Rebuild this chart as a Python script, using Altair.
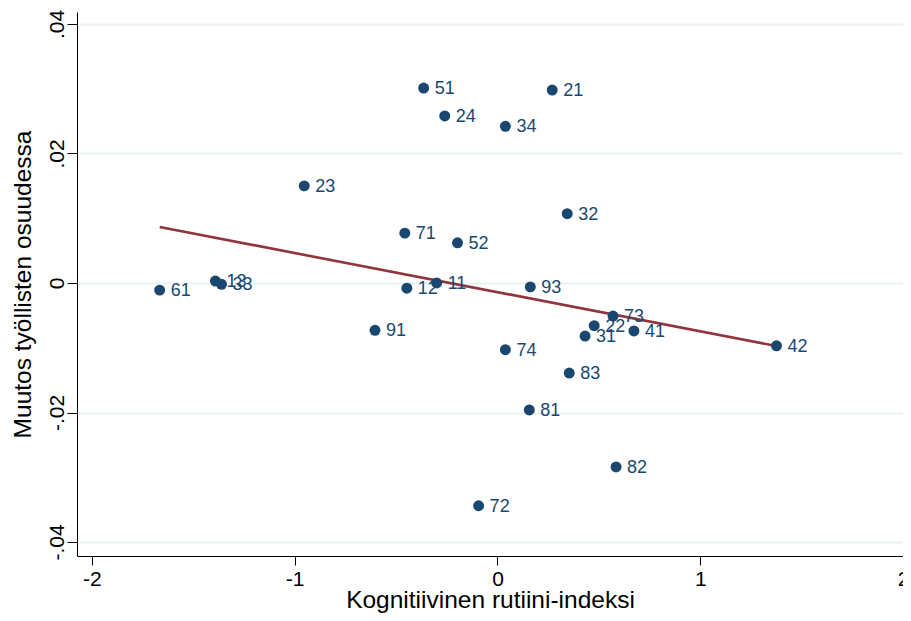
import altair as alt
import pandas as pd

codes = ["51", "21", "24", "34", "23", "32", "71", "52", "61", "13", "33", "12", "11",
         "93", "91", "73", "22", "31", "41", "42", "74", "83", "81", "82", "72"]
x_vals = [-0.364, 0.270, -0.260, 0.039, -0.953, 0.344, -0.457, -0.197, -1.666, -1.391,
          -1.361, -0.447, -0.300, 0.162, -0.604, 0.570, 0.477, 0.432, 0.673, 1.376,
          0.039, 0.354, 0.157, 0.585, -0.093]
y_vals = [0.0301, 0.0298, 0.0258, 0.0242, 0.0150, 0.0107, 0.0077, 0.0062, -0.0011, 0.0003,
          -0.0002, -0.0008, 0.0000, -0.0006, -0.0073, -0.0051, -0.0066, -0.0082, -0.0074,
          -0.0097, -0.0103, -0.0139, -0.0196, -0.0284, -0.0344]

fit_x = [-1.666, 1.376]
fit_y = [0.00865, -0.00973]

x_ticks = [-2, -1, 0, 1, 2]
y_ticks = [-0.04, -0.02, 0, 0.02, 0.04]

df = pd.DataFrame({"x": x_vals, "y": y_vals, "code": codes})
fit = pd.DataFrame({"x": fit_x, "y": fit_y})

NAVY = "#1a476f"
MAROON = "#90353b"
FONT = "Liberation Sans"

xscale = alt.Scale(domain=[-2.0737, 2.0], nice=False, zero=False)
yscale = alt.Scale(domain=[-0.04216, 0.04185], nice=False, zero=False)

xaxis = alt.Axis(values=x_ticks, title="Kognitiivinen rutiini-indeksi", grid=False,
                 labelExpr="datum.value < 0 ? '-' + format(-datum.value, 'd') : format(datum.value, 'd')",
                 labelFontSize=21, titleFontSize=24.5, tickSize=9, labelPadding=3,
                 titleY=51, titleBaseline="alphabetic", titleFontWeight="normal",
                 domainColor="black", tickColor="black", labelColor="black",
                 titleColor="black", labelFont=FONT, titleFont=FONT, labelFlush=False)
yaxis = alt.Axis(values=y_ticks, title="Muutos työllisten osuudessa",
                 labelExpr="datum.value == 0 ? '0' : (datum.value < 0 ? '-' : '') + replace(format(abs(datum.value), '.2f'), '0.', '.')",
                 grid=True, gridColor="#eaf2f3", gridWidth=2,
                 labelFontSize=21, titleFontSize=24.5, tickSize=10, labelPadding=4,
                 labelAngle=270, labelAlign="center", labelBaseline="alphabetic",
                 titleX=-47, titleY=272, titleBaseline="alphabetic", titleAngle=270,
                 titleFontWeight="normal",
                 domainColor="black", tickColor="black", labelColor="black",
                 titleColor="black", labelFont=FONT, titleFont=FONT, labelFlush=False)

base = alt.Chart(df)

line = alt.Chart(fit).mark_line(color=MAROON, strokeWidth=2.6).encode(
    x=alt.X("x:Q", scale=xscale, axis=xaxis),
    y=alt.Y("y:Q", scale=yscale, axis=yaxis),
)

points = base.mark_circle(color=NAVY, opacity=1, size=120).encode(
    x=alt.X("x:Q", scale=xscale),
    y=alt.Y("y:Q", scale=yscale),
)

labels = base.mark_text(color=NAVY, align="left", baseline="middle", dx=11, dy=1,
                        fontSize=18, font=FONT).encode(
    x=alt.X("x:Q", scale=xscale),
    y=alt.Y("y:Q", scale=yscale),
    text="code:N",
)

chart = alt.layer(line, points, labels).properties(
    width=826, height=544,
    autosize=alt.AutoSizeParams(type="none"),
    padding={"left": 69, "top": 4, "right": 0, "bottom": 57},
    background="white",
).configure_view(stroke=None)

chart.save("out.html", embed_options={"renderer": "svg", "actions": False})
